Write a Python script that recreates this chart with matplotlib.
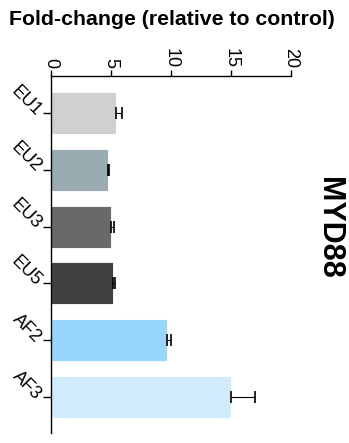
import matplotlib.pyplot as plt

plt.rcParams['font.family'] = ['Liberation Sans', 'DejaVu Sans']

# datos
groups = ["EU1", "EU2", "EU3", "EU5", "AF2", "AF3"]
fold = [5.4, 4.75, 5.0, 5.2, 9.7, 15.0]
err = [0.5, 0.1, 0.25, 0.15, 0.3, 2.0]
colors = ["#d0d0d0", "#9aabb1", "#696969", "#404040", "#99d6fd", "#d0ecfc"]
xticks = [0, 5, 10, 15, 20]

fig = plt.figure(figsize=(3.49, 4.43), dpi=100)
ax = fig.add_axes([0.146, 0.023, 0.688, 0.805])

pos = list(range(len(groups)))
ax.barh(pos, fold, height=0.74, color=colors, edgecolor="white", linewidth=0.6, zorder=2)
ax.errorbar(fold, pos, xerr=[[0] * len(err), err], fmt="none", ecolor="black",
            elinewidth=0.8, capsize=4, capthick=1.2, zorder=3)

ax.set_xlim(0, 20)
ax.set_ylim(5.63, -0.65)
ax.set_xticks(xticks)
ax.set_xticklabels([str(t) for t in xticks], rotation=-90, fontsize=13)
ax.xaxis.tick_top()
ax.tick_params(axis="x", length=4, width=1, pad=2)
ax.set_yticks(pos)
ax.set_yticklabels(groups, rotation=-45, fontsize=13, ha="right", va="center",
                   rotation_mode="anchor")
ax.tick_params(axis="y", length=6, width=1, pad=3)

for s in ["right", "bottom"]:
    ax.spines[s].set_visible(False)
for s in ["left", "top"]:
    ax.spines[s].set_linewidth(1)

fig.text(0.492, 0.955, "Fold-change (relative to control)", ha="center", va="center",
         fontsize=15.3, fontweight="bold")
fig.text(0.943, 0.485, "MYD88", rotation=-90, ha="center", va="center",
         fontsize=22, fontweight="bold")

fig.savefig("out.png", dpi=100)
